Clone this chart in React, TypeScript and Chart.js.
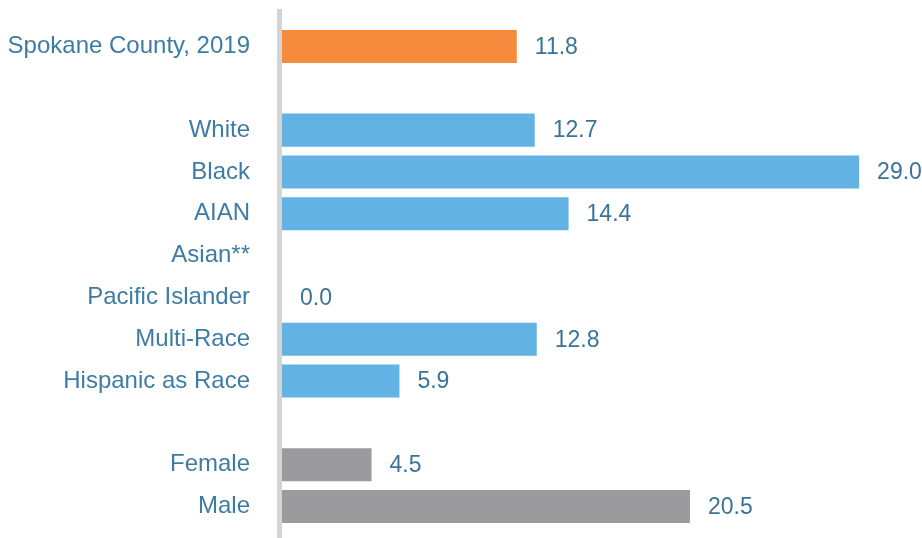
import React, { useEffect, useRef } from "react";
import { Chart, registerables } from "chart.js";

Chart.register(...registerables);

const categories: string[] = [
  "Spokane County, 2019",
  "",
  "White",
  "Black",
  "AIAN",
  "Asian**",
  "Pacific Islander",
  "Multi-Race",
  "Hispanic as Race",
  "",
  "Female",
  "Male",
];

const values: (number | null)[] = [11.8, null, 12.7, 29.0, 14.4, null, 0.0, 12.8, 5.9, null, 4.5, 20.5];

const groups: string[] = ["county", "", "race", "race", "race", "race", "race", "race", "race", "", "sex", "sex"];

const groupColors: Record<string, string> = {
  county: "#F78B3D",
  race: "#62B2E3",
  sex: "#9B9B9D",
  "": "#ffffff",
};

const FONT = "'Liberation Sans', Arial, Helvetica, sans-serif";
const LABEL_COLOR = "#3E7CA4";
const VALUE_COLOR = "#3A7399";

const axisLinePlugin = {
  id: "axisLine",
  beforeDatasetsDraw(chart: any) {
    const ctx = chart.ctx;
    const x0 = chart.scales.x.getPixelForValue(0);
    ctx.save();
    ctx.fillStyle = "#D4D4D6";
    ctx.fillRect(x0 - 5, 9, 5, chart.height - 9);
    ctx.restore();
  },
};

const valueLabelPlugin = {
  id: "valueLabels",
  afterDatasetsDraw(chart: any) {
    const ctx = chart.ctx;
    const meta = chart.getDatasetMeta(0);
    const data = chart.data.datasets[0].data;
    ctx.save();
    ctx.font = `23px ${FONT}`;
    ctx.fillStyle = VALUE_COLOR;
    ctx.textAlign = "left";
    ctx.textBaseline = "middle";
    meta.data.forEach((bar: any, i: number) => {
      const v = data[i];
      if (v === null || v === undefined) return;
      ctx.fillText(Number(v).toFixed(1), bar.x + 18, bar.y + 1);
    });
    ctx.restore();
  },
};

export default function App() {
  const canvasRef = useRef<HTMLCanvasElement | null>(null);

  useEffect(() => {
    if (!canvasRef.current) return;
    const chart = new Chart(canvasRef.current, {
      type: "bar",
      data: {
        labels: categories,
        datasets: [
          {
            data: values,
            backgroundColor: groups.map((g) => groupColors[g]),
            barPercentage: 0.79,
            categoryPercentage: 1,
          },
        ],
      },
      options: {
        indexAxis: "y",
        animation: false,
        responsive: true,
        maintainAspectRatio: false,
        layout: { padding: { top: 25.6, bottom: 10.6, right: 3.2, left: 0 } },
        plugins: {
          legend: { display: false },
          tooltip: { enabled: false },
        },
        scales: {
          x: {
            display: false,
            min: 0,
            max: 32,
          },
          y: {
            grid: { display: false, drawTicks: false },
            border: { display: false },
            ticks: {
              autoSkip: false,
              padding: 32,
              color: LABEL_COLOR,
              font: { size: 24, family: FONT },
            },
            afterFit(scale: any) {
              scale.width = 282;
              scale.paddingTop = 0;
              scale.paddingBottom = 0;
            },
          },
        },
      },
      plugins: [axisLinePlugin, valueLabelPlugin],
    });
    return () => chart.destroy();
  }, []);

  return (
    <div style={{ position: "absolute", left: 0, top: 0, width: 922, height: 538, background: "#fff" }}>
      <canvas ref={canvasRef} />
    </div>
  );
}
